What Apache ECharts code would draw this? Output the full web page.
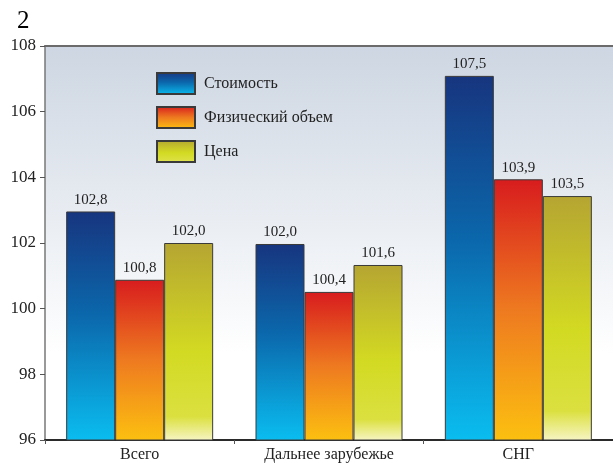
<!DOCTYPE html>
<html>
<head>
<meta charset="utf-8">
<script src="https://cdn.jsdelivr.net/npm/echarts@6/dist/echarts.min.js"></script>
<style>html,body{margin:0;padding:0;background:#fff;}#c{width:613px;height:463px;}</style>
</head>
<body>
<div id="c"></div>
<script>
const titleText = '2';
const categories = ['Всего', 'Дальнее зарубежье', 'СНГ'];
const seriesNames = ['Стоимость', 'Физический объем', 'Цена'];
// bar heights as drawn in the picture
const costValues = [102.96, 101.97, 107.09];
const volumeValues = [100.88, 100.51, 103.94];
const priceValues = [102.0, 101.33, 103.43];
// printed labels above the bars
const costLabels = ['102,8', '102,0', '107,5'];
const volumeLabels = ['100,8', '100,4', '103,9'];
const priceLabels = ['102,0', '101,6', '103,5'];
const yMin = 96, yMax = 108, yStep = 2;

const FONT = '"Liberation Serif", "DejaVu Serif", serif';
const grad = (stops) => new echarts.graphic.LinearGradient(0, 0, 0, 1, stops.map((c, i) => ({offset: c[0], color: c[1]})));
const colors = [
  grad([[0, '#17357f'], [0.45, '#0b67ab'], [1, '#0abdf0']]),
  grad([[0, '#d81c1e'], [0.5, '#ee7a20'], [1, '#fcc010']]),
  grad([[0, '#b5a532'], [0.55, '#d3da22'], [0.88, '#dbe040'], [1, '#f7f5c4']])
];
const allValues = [costValues, volumeValues, priceValues];
const allLabels = [costLabels, volumeLabels, priceLabels];

const chart = echarts.init(document.getElementById('c'));
chart.setOption({
  animation: false,
  backgroundColor: '#ffffff',
  title: {text: titleText, left: 12, top: 4, textStyle: {fontFamily: FONT, fontSize: 25, fontWeight: 'normal', color: '#000'}},
  grid: {left: 45, right: 0, top: 46, bottom: 21, show: true, borderWidth: 0,
    backgroundColor: new echarts.graphic.LinearGradient(0, 0, 0, 1, [{offset: 0, color: '#cdd6e2'}, {offset: 0.78, color: '#ffffff'}, {offset: 1, color: '#ffffff'}])},
  legend: {
    orient: 'vertical', left: 156, top: 72, padding: 0, itemWidth: 38, itemHeight: 21, itemGap: 11,
    icon: 'rect',
    textStyle: {fontFamily: FONT, fontSize: 16, color: '#222', padding: [0, 0, 0, 4]},
    data: seriesNames
  },
  xAxis: [{
    type: 'category', data: categories, position: 'bottom',
    axisLine: {lineStyle: {color: '#2a2a2a', width: 2}},
    axisTick: {show: true, length: 4, lineStyle: {color: '#555'}},
    axisLabel: {fontFamily: FONT, fontSize: 16, color: '#222', margin: 7}
  }, {
    type: 'category', data: categories, position: 'top',
    axisLine: {lineStyle: {color: '#6b6b6b', width: 2}},
    axisTick: {show: false}, axisLabel: {show: false}
  }],
  yAxis: {
    type: 'value', min: yMin, max: yMax, interval: yStep,
    axisLine: {show: true, lineStyle: {color: '#777', width: 1.5}},
    axisTick: {show: true, length: 5, lineStyle: {color: '#555'}},
    splitLine: {show: false},
    axisLabel: {fontFamily: FONT, fontSize: 17, color: '#222', margin: 9}
  },
  series: seriesNames.map((name, s) => ({
    name, type: 'bar', barWidth: 49, barGap: '0%',
    data: allValues[s],
    itemStyle: {color: colors[s], borderColor: '#3a3a3a', borderWidth: 1},
    label: {show: true, position: 'top', distance: 4, fontFamily: FONT, fontSize: 15, color: '#222',
      formatter: (p) => allLabels[s][p.dataIndex]}
  }))
});
</script>
</body>
</html>
